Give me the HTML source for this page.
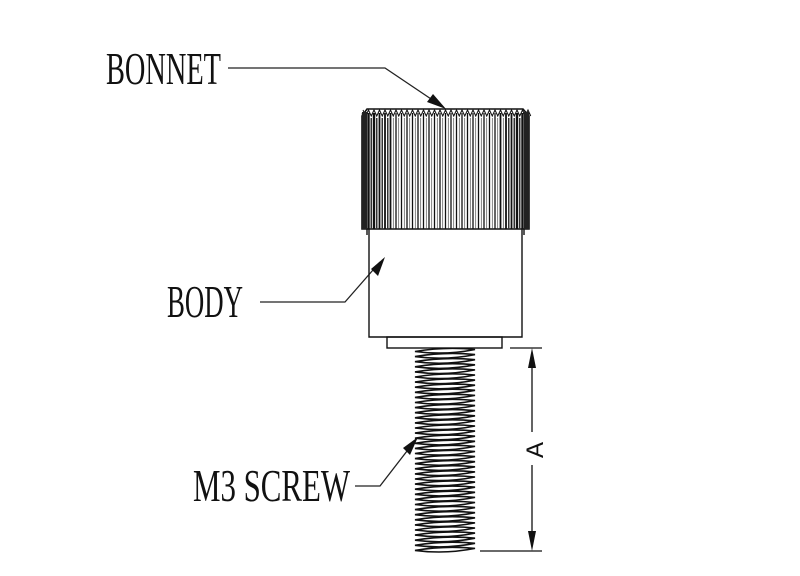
<!DOCTYPE html>
<html><head><style>html,body{margin:0;padding:0;background:#fff}svg{display:block}text{font-family:"Liberation Serif",serif;font-size:46px;fill:#111}</style></head>
<body>
<svg id="s" width="800" height="576" viewBox="0 0 800 576" xmlns="http://www.w3.org/2000/svg">
<rect width="800" height="576" fill="#fff"/>
<text x="106" y="84" textLength="115" lengthAdjust="spacingAndGlyphs">BONNET</text>
<text x="167" y="317" textLength="76" lengthAdjust="spacingAndGlyphs">BODY</text>
<text x="193" y="501" textLength="157" lengthAdjust="spacingAndGlyphs">M3 SCREW</text>
<g stroke="#222" stroke-width="1.3" fill="none">
<polyline points="228,68 385,68 440,105"/>
<polyline points="260,302 345,302 380,262"/>
<polyline points="355,486 380,486 414,442"/>
</g>
<g fill="#111">
<polygon points="446,109 427,102 433,94"/>
<polygon points="385,257 378,276 371,269"/>
<polygon points="418,437 410,455 403,448"/>
</g>
<g id="bon"></g>
<g stroke="#111" stroke-width="1.4" fill="none">
<polyline points="369,229 369,337 522,337 522,229"/>
<rect x="387" y="337" width="115" height="11"/>
<line x1="367" y1="229" x2="367" y2="235"/><line x1="524" y1="229" x2="524" y2="235"/>
</g>
<g id="thr"></g>
<g stroke="#111" stroke-width="1.3">
<line x1="510" y1="348" x2="542" y2="348"/>
<line x1="480" y1="551" x2="542" y2="551"/>
<line x1="532" y1="360" x2="532" y2="432"/>
<line x1="532" y1="465" x2="532" y2="540"/>
</g>
<g fill="#111"><polygon points="532,348 528,368 536,368"/><polygon points="532,551 528,531 536,531"/></g>
<text x="0" y="0" style="font-family:'Liberation Sans',sans-serif;font-size:24px" transform="translate(543,458) rotate(-90)">A</text>
</svg>
<script>
var ns="http://www.w3.org/2000/svg";
function el(p,t,a){var e=document.createElementNS(ns,t);for(var k in a)e.setAttribute(k,a[k]);p.appendChild(e);return e;}
var b=document.getElementById('bon');
el(b,'polygon',{points:"367,109 523,109 529,116 529,229 362,229 362,116",fill:"#fff",stroke:"#111","stroke-width":"1.6"});
var n=30,x0=363,x1=528,zz="";
for(var i=0;i<=n;i++){var x=x0+(x1-x0)*i/n;
 var c=Math.abs((x-445.5)/83);var w=c>0.85?2.4:(c>0.6?1.8:1.3);
 el(b,'line',{x1:x,y1:113,x2:x,y2:229,stroke:"#111","stroke-width":w});
 if(i<n){var xm=x+(x1-x0)/n/2;var wm=c>0.7?1.5:0.6;el(b,'line',{x1:xm,y1:118,x2:xm,y2:229,stroke:"#333","stroke-width":wm});}
 zz+=x+",110 "+(x+(x1-x0)/n/2)+",116 ";}
el(b,'polyline',{points:zz,fill:"none",stroke:"#111","stroke-width":"1"});
el(b,'rect',{x:362,y:112,width:5,height:117,fill:"#222"});
el(b,'rect',{x:524,y:112,width:5,height:117,fill:"#222"});
var t=document.getElementById('thr');
var L="",R="";
for(var y=349;y<549;y+=5.1){
 el(t,'path',{d:"M415,"+(y+2.5)+" Q445,"+(y-2.5)+" 475,"+(y+0.5)+" Q445,"+(y+6.5)+" 415,"+(y+2.5)+"Z",fill:"#fff",stroke:"#111","stroke-width":"1.6"});
}
</script>
</body></html>
